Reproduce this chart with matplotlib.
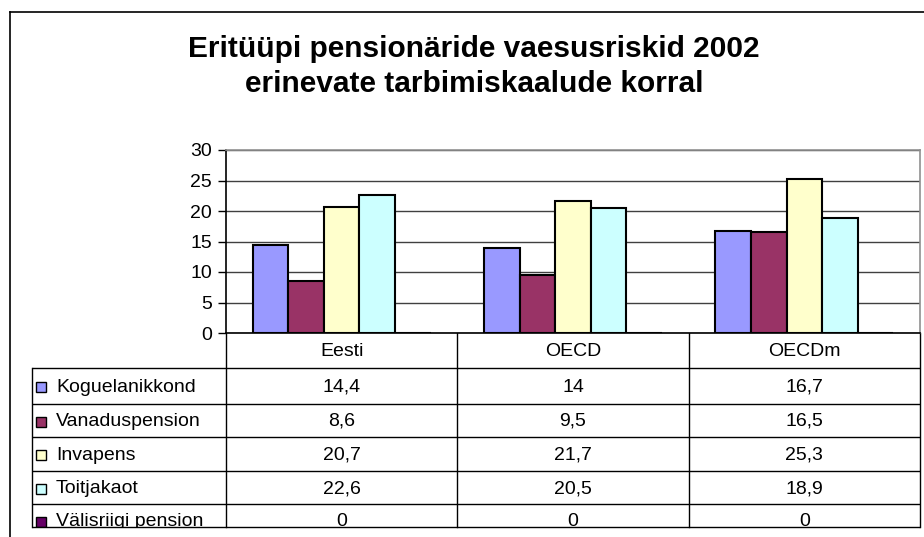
import matplotlib.pyplot as plt
from matplotlib.patches import Rectangle
from matplotlib import transforms
import numpy as np

plt.rcParams['font.family'] = ['Liberation Sans', 'DejaVu Sans']

title1 = "Eritüüpi pensionäride vaesusriskid 2002"
title2 = "erinevate tarbimiskaalude korral"
categories = ["Eesti", "OECD", "OECDm"]
series = ["Koguelanikkond", "Vanaduspension", "Invapens", "Toitjakaot", "Välisriigi pension"]
koguelanikkond = [14.4, 14, 16.7]
vanaduspension = [8.6, 9.5, 16.5]
invapens = [20.7, 21.7, 25.3]
toitjakaot = [22.6, 20.5, 18.9]
valisriigi = [0, 0, 0]
values = [koguelanikkond, vanaduspension, invapens, toitjakaot, valisriigi]
colors = ["#9999FF", "#993366", "#FFFFCC", "#CCFFFF", "#660066"]

W, H = 924, 537
fs = 14


def box(x0, y0, x1, y1):
    # pixel box (top-left origin) -> figure fraction
    return [x0 / W, 1 - y1 / H, (x1 - x0) / W, (y1 - y0) / H]


def fmt(v):
    return ("%g" % v).replace(".", ",")


fig = plt.figure(figsize=(W / 100, H / 100), dpi=100)

# overlay in pixel coords, bottom edge clips the last table row
tab = fig.add_axes(box(0, 0, W, 527))
tab.set_xlim(0, W)
tab.set_ylim(527, 0)
tab.axis("off")

ax = fig.add_axes(box(226, 150, 920, 333))

# outer chart border (runs off the right and bottom)
tab.plot([10, 10], [12, 537], color="black", lw=1.2, clip_on=False)
tab.plot([10, 924], [12, 12], color="black", lw=1.2, clip_on=False)

tab.text(474, 57, title1, ha="center", va="baseline", fontsize=21.5, fontweight="bold")
tab.text(474, 92, title2, ha="center", va="baseline", fontsize=21.5, fontweight="bold")

# bars
nb = len(series)
w = 1 / 6.5
x = np.arange(len(categories))
for j, (name, vals, c) in enumerate(zip(series, values, colors)):
    ax.bar(x + (j - (nb - 1) / 2) * w, vals, w, color=c, edgecolor="black",
           linewidth=1.5, zorder=3, label=name)

ax.set_xlim(-0.5, 2.5)
ax.set_ylim(0, 30)
ax.set_yticks(range(0, 31, 5))
ax.set_xticks([])
ax.yaxis.grid(True, color="#404040", lw=1)
ax.set_axisbelow(True)
for s in ["left", "bottom"]:
    ax.spines[s].set_color("black")
    ax.spines[s].set_linewidth(1.2)
for s in ["top", "right"]:
    ax.spines[s].set_color("#909090")
    ax.spines[s].set_linewidth(1.2)
ax.tick_params(axis="y", direction="out", length=6, width=1, labelsize=fs, pad=4)

# data table under the plot
blend = transforms.blended_transform_factory(ax.transData, tab.transData)
for xv in [-0.5, 0.5, 1.5, 2.5]:
    tab.plot([xv, xv], [333, 527], transform=blend, color="black", lw=1, clip_on=False)
bounds = [368, 404, 437, 471, 504, 538]
tab.hlines(bounds[:-1] + [527], 32, 920, color="black", lw=1, clip_on=False)
tab.plot([32, 32], [368, 527], color="black", lw=1, clip_on=False)

for i, cat in enumerate(categories):
    tab.text(i, 351, cat, transform=blend, ha="center", va="center", fontsize=fs)

for j, (name, vals, c) in enumerate(zip(series, values, colors)):
    yc = (bounds[j] + bounds[j + 1]) / 2 + 1
    tab.add_patch(Rectangle((36, yc - 5), 10, 10, facecolor=c, edgecolor="black", lw=1))
    tab.text(56, yc, name, ha="left", va="center", fontsize=fs, clip_on=True)
    for i, v in enumerate(vals):
        tab.text(i, yc, fmt(v), transform=blend, ha="center", va="center",
                 fontsize=fs, clip_on=True)

fig.savefig("out.png", dpi=100)
